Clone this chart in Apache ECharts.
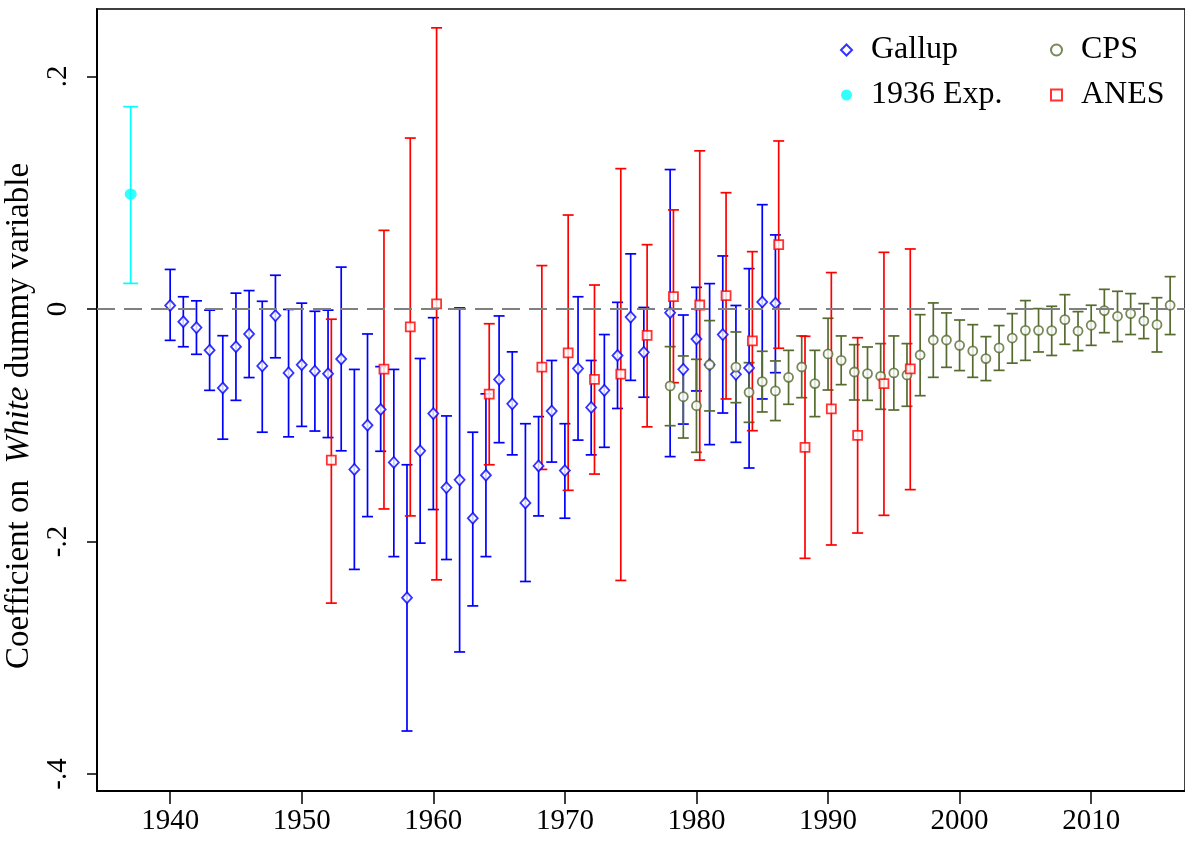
<!DOCTYPE html>
<html>
<head>
<meta charset="utf-8">
<script src="https://cdn.jsdelivr.net/npm/echarts@6/dist/echarts.min.js"></script>
<style>
  html, body { margin: 0; padding: 0; background: #fff; }
  #chart { width: 1185px; height: 842px; }
</style>
</head>
<body>
<div id="chart"></div>
<script>
// Gallup polls
const gallupYears = [1940, 1941, 1942, 1943, 1944, 1945, 1946, 1947, 1948, 1949,
  1950, 1951, 1952, 1953, 1954, 1955, 1956, 1957, 1958, 1959,
  1960, 1961, 1962, 1963, 1964, 1965, 1966, 1967, 1968, 1969,
  1970, 1971, 1972, 1973, 1974, 1975, 1976, 1978, 1979,
  1980, 1981, 1982, 1983, 1984, 1985, 1986]
const gallupCoef = [0.003, -0.011, -0.016, -0.0355, -0.068, -0.0325, -0.0215, -0.049, -0.0057, -0.055,
  -0.048, -0.0535, -0.0557, -0.043, -0.138, -0.100, -0.0865, -0.132, -0.2484, -0.122,
  -0.090, -0.1536, -0.147, -0.180, -0.143, -0.0606, -0.0816, -0.1668, -0.135, -0.0878,
  -0.139, -0.0513, -0.0847, -0.070, -0.040, -0.007, -0.0373, -0.0032, -0.0519,
  -0.0258, -0.0479, -0.022, -0.0562, -0.0508, 0.006, 0.0049]
const gallupHi = [0.034, 0.0105, 0.007, -0.001, -0.023, 0.0136, 0.0158, 0.0066, 0.029, -0.0004,
  0.005, -0.002, -0.001, 0.036, -0.052, -0.0215, -0.0496, -0.052, -0.134, -0.0426,
  -0.0075, -0.092, 0.0009, -0.106, -0.073, -0.006, -0.0369, -0.0987, -0.0926, -0.0443,
  -0.0987, 0.0105, -0.0443, -0.022, 0.0057, 0.0474, 0.0013, 0.1199, -0.0052,
  0.0186, 0.0218, 0.0456, 0.003, 0.0347, 0.0897, 0.0637]
const gallupLo = [-0.027, -0.0325, -0.039, -0.070, -0.112, -0.0786, -0.059, -0.106, -0.042, -0.110,
  -0.101, -0.105, -0.1106, -0.122, -0.224, -0.1786, -0.1224, -0.213, -0.363, -0.2014,
  -0.1725, -0.2155, -0.295, -0.2554, -0.213, -0.115, -0.1255, -0.2344, -0.178, -0.1317,
  -0.180, -0.1128, -0.1255, -0.119, -0.0856, -0.0614, -0.0759, -0.127, -0.099,
  -0.0705, -0.1167, -0.0895, -0.1147, -0.1368, -0.0774, -0.0548]

// ANES surveys
const anesYears = [1952, 1956, 1958, 1960, 1964, 1968, 1970, 1972, 1974, 1976,
  1978, 1980, 1982, 1984, 1986, 1988, 1990, 1992, 1994, 1996]
const anesCoef = [-0.130, -0.0518, -0.0154, 0.0044, -0.0733, -0.050, -0.0377, -0.0606, -0.056, -0.0228,
  0.0106, 0.0034, 0.0115, -0.0275, 0.0553, -0.119, -0.086, -0.1087, -0.0642, -0.0516]
const anesHi = [-0.0088, 0.0676, 0.147, 0.2418, -0.0127, 0.0373, 0.0808, 0.0206, 0.1207, 0.0553,
  0.0852, 0.136, 0.100, 0.0493, 0.1445, -0.0235, 0.0313, -0.0247, 0.0487, 0.0516]
const anesLo = [-0.253, -0.172, -0.178, -0.233, -0.134, -0.138, -0.156, -0.142, -0.2335, -0.1014,
  -0.0634, -0.130, -0.0774, -0.1047, -0.0338, -0.2145, -0.203, -0.1927, -0.1775, -0.1554]

// CPS
const cpsYears = [1978, 1979, 1980, 1981, 1983, 1984, 1985, 1986, 1987, 1988, 1989,
  1990, 1991, 1992, 1993, 1994, 1995, 1996, 1997, 1998, 1999,
  2000, 2001, 2002, 2003, 2004, 2005, 2006, 2007, 2008, 2009,
  2010, 2011, 2012, 2013, 2014, 2015, 2016]
const cpsCoef = [-0.0662, -0.0754, -0.0832, -0.048, -0.050, -0.0717, -0.0625, -0.0705, -0.0588, -0.0499, -0.0642,
  -0.0387, -0.0442, -0.0542, -0.0556, -0.0579, -0.055, -0.0568, -0.0396, -0.0267, -0.0267,
  -0.0313, -0.0361, -0.0427, -0.0335, -0.025, -0.0184, -0.0184, -0.0186, -0.0092, -0.019,
  -0.014, -0.0014, -0.0063, -0.004, -0.0103, -0.0135, 0.0032]
const cpsHi = [-0.0324, -0.0404, -0.0433, -0.010, -0.0198, -0.0462, -0.0364, -0.0447, -0.0356, -0.0232, -0.0356,
  -0.008, -0.0232, -0.0307, -0.0327, -0.0298, -0.0232, -0.0298, -0.0049, 0.0052, -0.0034,
  -0.0095, -0.0135, -0.0238, -0.0143, -0.004, 0.0072, 0.0003, 0.0023, 0.0123, -0.0023,
  0.0032, 0.0169, 0.0152, 0.0132, 0.0046, 0.0097, 0.0278]
const cpsLo = [-0.1004, -0.111, -0.1233, -0.0877, -0.0806, -0.0975, -0.0886, -0.096, -0.082, -0.0763, -0.0926,
  -0.0697, -0.0651, -0.0783, -0.0786, -0.0863, -0.0869, -0.0837, -0.0746, -0.0588, -0.0502,
  -0.053, -0.0588, -0.0616, -0.0528, -0.0466, -0.0442, -0.037, -0.040, -0.0304, -0.0358,
  -0.0313, -0.0204, -0.0281, -0.022, -0.0255, -0.037, -0.022]

// 1936 experiment (plotted at 1937)
const expYears = [1937]
const expCoef = [0.0988]
const expHi = [0.174]
const expLo = [0.022]

const xTicks = [1940, 1950, 1960, 1970, 1980, 1990, 2000, 2010]
const yTicks = [-0.4, -0.2, 0, 0.2]

const FONT = "'Liberation Serif', 'Times New Roman', serif"
const BLUE = '#0000ff'
const RED = '#ff0000'
const GREEN = '#556b2f'
const CYAN = '#00ffff'
const ANES_SHIFT = 0.25

var myChart = echarts.init(document.getElementById('chart'))

function errorBars (name, years, hi, lo, color, cap, shift) {
  return {
    type: 'custom',
    name: name,
    silent: true,
    z: 2,
    data: years.map((yr, i) => [yr + shift, hi[i], lo[i]]),
    encode: { x: 0, y: [1, 2] },
    renderItem: function (params, api) {
      var top = api.coord([api.value(0), api.value(1)])
      var bot = api.coord([api.value(0), api.value(2)])
      var h = cap / 2
      var st = { stroke: color, lineWidth: 1.7 }
      return {
        type: 'group',
        children: [
          { type: 'line', shape: { x1: top[0], y1: top[1], x2: bot[0], y2: bot[1] }, style: st },
          { type: 'line', shape: { x1: top[0] - h, y1: top[1], x2: top[0] + h, y2: top[1] }, style: st },
          { type: 'line', shape: { x1: bot[0] - h, y1: bot[1], x2: bot[0] + h, y2: bot[1] }, style: st }
        ]
      }
    }
  }
}

function points (name, years, coef, symbol, size, color, filled, shift) {
  return {
    type: 'scatter',
    name: name,
    z: 3,
    symbol: symbol,
    symbolSize: size,
    data: years.map((yr, i) => [yr + shift, coef[i]]),
    itemStyle: filled
      ? { color: color }
      : { color: '#fff', borderColor: color, borderWidth: 1.8 },
    emphasis: { disabled: true }
  }
}

function yFmt (v) {
  if (Math.abs(v) < 1e-9) return '0'
  var s = String(Math.abs(Math.round(v * 10) / 10)).replace(/^0/, '')
  return (v < 0 ? '-' : '') + s
}

const legendText = { fontFamily: FONT, fontSize: 32, lineHeight: 32, color: '#000', padding: [0, 0, 0, 14] }

myChart.setOption({
  animation: false,
  grid: {
    left: 97, right: 0, top: 9, bottom: 51,
    outerBoundsMode: 'none',
    containLabel: false,
    show: true, borderColor: '#000', borderWidth: 1.5
  },
  legend: [
    {
      left: 840, top: 34, orient: 'vertical', itemGap: 13, padding: 0,
      itemWidth: 11, itemHeight: 11,
      data: ['Gallup', '1936 Exp.'],
      textStyle: legendText
    },
    {
      left: 1050, top: 34, orient: 'vertical', itemGap: 13, padding: 0,
      itemWidth: 11, itemHeight: 11,
      data: ['CPS', 'ANES'],
      textStyle: legendText
    }
  ],
  xAxis: {
    type: 'value',
    min: 1934.44, max: 2017.13,
    splitLine: { show: false },
    axisLine: { onZero: false, lineStyle: { color: '#000', width: 2 } },
    axisTick: { length: 13, lineStyle: { color: '#000', width: 1.5 }, customValues: xTicks },
    axisLabel: {
      customValues: xTicks, formatter: v => String(v),
      fontFamily: FONT, fontSize: 29, color: '#000', margin: 16
    }
  },
  yAxis: {
    type: 'value',
    min: -0.4146, max: 0.258,
    splitLine: { show: false },
    axisLine: { onZero: false, lineStyle: { color: '#000', width: 2 } },
    axisTick: { length: 10, lineStyle: { color: '#000', width: 1.5 }, customValues: yTicks },
    axisLabel: {
      customValues: yTicks, formatter: yFmt, rotate: 90,
      fontFamily: FONT, fontSize: 29, color: '#000', margin: 24
    },
    name: '{a|Coefficient on  }{b|White}{a| dummy variable}',
    nameLocation: 'middle',
    nameRotate: 90,
    nameGap: 54,
    nameTextStyle: {
      padding: [0, 32, 0, 0],
      rich: {
        a: { fontFamily: FONT, fontSize: 33, color: '#000' },
        b: { fontFamily: FONT, fontSize: 33, color: '#000', fontStyle: 'italic' }
      }
    }
  },
  series: [
    errorBars('expBars', expYears, expHi, expLo, CYAN, 15, 0),
    errorBars('gallupBars', gallupYears, gallupHi, gallupLo, BLUE, 11, 0),
    errorBars('cpsBars', cpsYears, cpsHi, cpsLo, GREEN, 11, 0),
    errorBars('anesBars', anesYears, anesHi, anesLo, RED, 11, ANES_SHIFT),
    Object.assign(points('Gallup', gallupYears, gallupCoef, 'diamond', [10, 11], BLUE, false, 0), {
      markLine: {
        silent: true,
        symbol: 'none',
        label: { show: false },
        emphasis: { disabled: true },
        lineStyle: { color: '#808080', width: 2, type: [18, 9] },
        data: [{ yAxis: 0 }]
      }
    }),
    points('1936 Exp.', expYears, expCoef, 'circle', [12, 11], CYAN, true, 0),
    points('CPS', cpsYears, cpsCoef, 'circle', 9, GREEN, false, 0),
    points('ANES', anesYears, anesCoef, 'rect', 9, RED, false, ANES_SHIFT)
  ]
})
</script>
</body>
</html>
